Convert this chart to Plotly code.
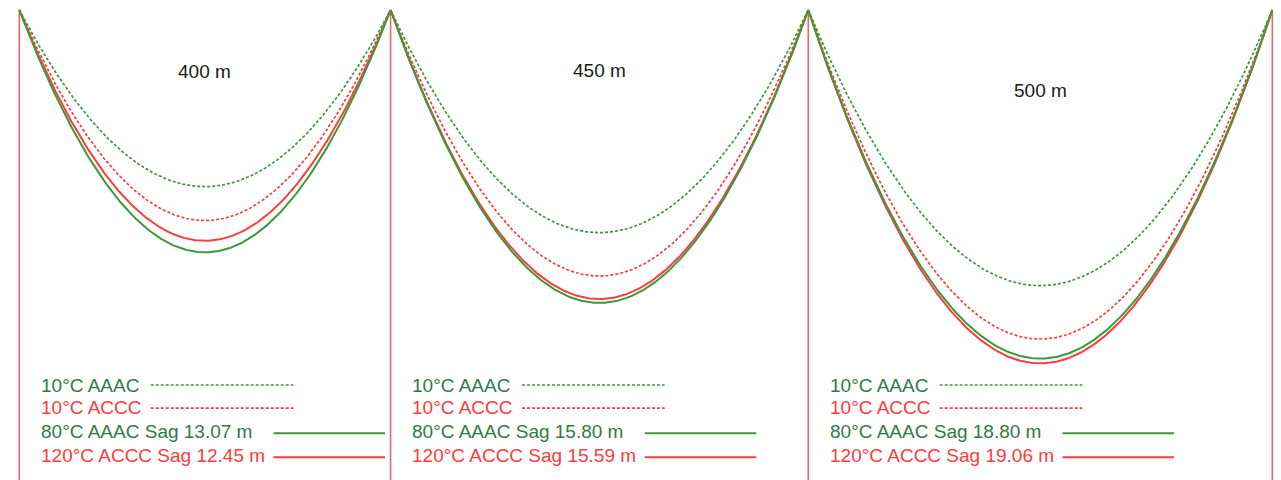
import plotly.graph_objects as go
import numpy as np

# ---- data ----
spans_m = [400, 450, 500]
span_labels = ["400 m", "450 m", "500 m"]
sag_10c_aaac = [9.53, 12.01, 14.87]
sag_10c_accc = [11.36, 14.35, 17.75]
sag_80c_aaac = [13.07, 15.80, 18.80]
sag_120c_accc = [12.45, 15.59, 19.06]

series_names = ["10°C AAAC", "10°C ACCC", "80°C AAAC Sag {:.2f} m", "120°C ACCC Sag {:.2f} m"]

GREEN_LINE = "#3a9a3a"
GREEN_TEXT = "#2e7a4c"
RED = "#ff3b3b"
TOWER = "#ff5a5a"

W, H = 1281, 480
PX_PER_M_X = 1253 / 1350
PX_PER_M_Y = 18.54
X0_PX = 19.3
Y0_PX = 10.0

def ypx(p):
    return (p - Y0_PX) / PX_PER_M_Y

fig = go.Figure()

starts = np.concatenate([[0], np.cumsum(spans_m)])

# towers
for sx in starts:
    fig.add_trace(go.Scatter(x=[sx, sx], y=[0, 40], mode="lines",
                             line=dict(color=TOWER, width=1.5), hoverinfo="skip"))

DOT = "3px,2px"
styles = [
    (sag_10c_aaac, GREEN_LINE, DOT, 1.7),
    (sag_10c_accc, RED, DOT, 1.7),
    (sag_120c_accc, RED, "solid", 2),
    (sag_80c_aaac, GREEN_LINE, "solid", 2),
]

for i, L in enumerate(spans_m):
    t = np.linspace(0, 1, 301)
    xs = starts[i] + t * L
    for sags, col, dash, w in styles:
        s = sags[i]
        ys = 4 * s * t * (1 - t)
        fig.add_trace(go.Scatter(x=xs, y=ys, mode="lines",
                                 line=dict(color=col, width=w, dash=dash),
                                 hoverinfo="skip"))

# legend-like labels per span
text_off = 21.0
rows = [
    (series_names[0], GREEN_TEXT, GREEN_LINE, DOT, 1.7, 141.6, 295.3, 385.0, 385.0, None),
    (series_names[1], RED, RED, DOT, 1.7, 141.6, 295.3, 407.7, 408.2, None),
    (series_names[2], GREEN_TEXT, GREEN_LINE, "solid", 2, 274.0, 394.0, 431.7, 433.3, sag_80c_aaac),
    (series_names[3], RED, RED, "solid", 2, 274.0, 394.0, 455.7, 457.3, sag_120c_accc),
]

label_y_px = [71, 70, 90.5]

for i, L in enumerate(spans_m):
    sx = starts[i]
    for name, tcol, lcol, dash, w, l0, l1, ty, ly, vals in rows:
        txt = name.format(vals[i]) if vals is not None else name
        fig.add_annotation(x=sx + text_off, y=ypx(ty), text=txt, showarrow=False,
                           xanchor="left", yanchor="middle",
                           font=dict(family="Liberation Sans, Arial", size=19, color=tcol))
        fig.add_trace(go.Scatter(x=[sx + l0, sx + l1], y=[ypx(ly), ypx(ly)], mode="lines",
                                 line=dict(color=lcol, width=w, dash=dash), hoverinfo="skip"))
    fig.add_annotation(x=sx + L / 2, y=ypx(label_y_px[i]), text=span_labels[i], showarrow=False,
                       xanchor="center", yanchor="middle",
                       font=dict(family="Liberation Sans, Arial", size=19, color="#1a1a1a"))

x_left = -X0_PX / PX_PER_M_X
x_right = x_left + W / PX_PER_M_X
y_top = -Y0_PX / PX_PER_M_Y
y_bot = y_top + H / PX_PER_M_Y

fig.update_layout(
    width=W, height=H,
    margin=dict(l=0, r=0, t=0, b=0),
    paper_bgcolor="white", plot_bgcolor="white",
    showlegend=False,
    xaxis=dict(range=[x_left, x_right], visible=False, fixedrange=True),
    yaxis=dict(range=[y_bot, y_top], visible=False, fixedrange=True),
)

fig.write_html("out.html", config={"displayModeBar": False})
